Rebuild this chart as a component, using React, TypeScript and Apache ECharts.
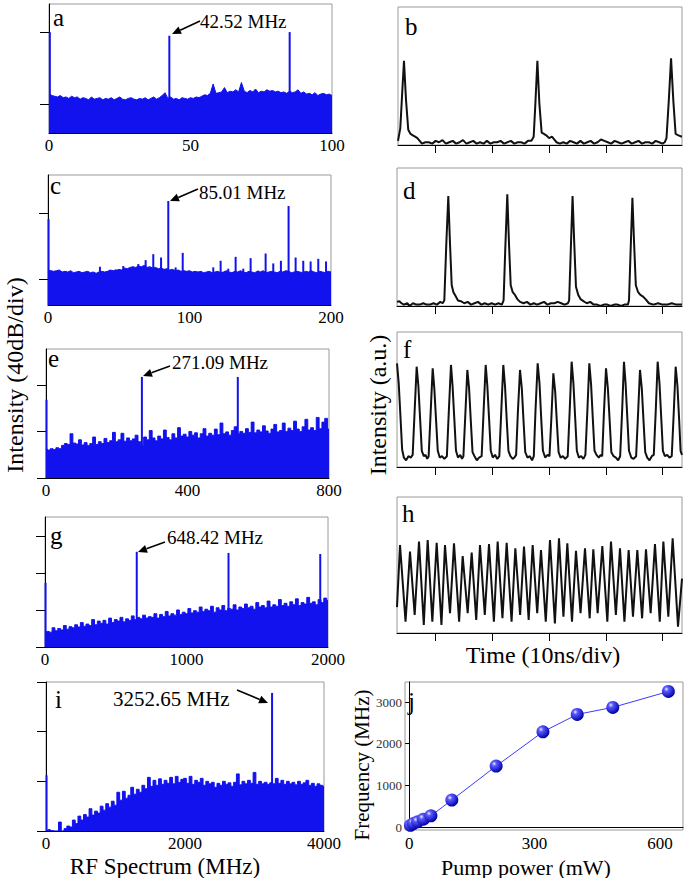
import React, { useEffect, useRef } from "react";
import * as echarts from "echarts";

const FONT = "Liberation Serif, Times New Roman, serif";
const BLUE = "#1212ee";

// ---------- RF spectra (y in "div" units from the panel bottom) ----------
const spanA = 100;
const stepA = 1;
const noiseA = [
  0.55, 0.52, 0.51, 0.5, 0.52, 0.49, 0.5, 0.48, 0.51, 0.49,
  0.5, 0.47, 0.49, 0.48, 0.46, 0.5, 0.47, 0.48, 0.49, 0.46,
  0.48, 0.47, 0.49, 0.46, 0.48, 0.5, 0.47, 0.46, 0.48, 0.49,
  0.47, 0.46, 0.48, 0.47, 0.49, 0.46, 0.48, 0.5, 0.47, 0.49,
  0.52, 0.56, 0.48, 0.5, 0.47, 0.48, 0.46, 0.49, 0.48, 0.47,
  0.49, 0.48, 0.5, 0.49, 0.51, 0.53, 0.52, 0.55, 0.68, 0.55,
  0.56, 0.57, 0.63, 0.56, 0.58, 0.57, 0.6, 0.57, 0.7, 0.58,
  0.56, 0.59, 0.57, 0.61, 0.56, 0.58, 0.57, 0.6, 0.58, 0.59,
  0.57, 0.58, 0.56, 0.57, 0.55, 0.58, 0.56, 0.57, 0.6, 0.55,
  0.57, 0.54, 0.55, 0.53, 0.56, 0.52, 0.54, 0.55, 0.53, 0.54,
  0.52,
];
const peaksA: [number, number][] = [[0.3, 1.4], [42.52, 1.35], [85.04, 1.4]];
const ticksA = [0.403, 1.403];
const maxA = 1.79;

const spanC = 200;
const stepC = 2;
const noiseC = [
  0.53, 0.52, 0.51, 0.52, 0.53, 0.5, 0.51, 0.5, 0.52, 0.49,
  0.5, 0.51, 0.49, 0.5, 0.51, 0.49, 0.5, 0.48, 0.5, 0.51,
  0.5, 0.51, 0.53, 0.52, 0.52, 0.54, 0.53, 0.56, 0.55, 0.57,
  0.58, 0.57, 0.59, 0.58, 0.6, 0.57, 0.58, 0.56, 0.57, 0.55,
  0.56, 0.54, 0.55, 0.53, 0.54, 0.52, 0.53, 0.51, 0.52, 0.51,
  0.52, 0.5, 0.51, 0.5, 0.51, 0.49, 0.5, 0.51, 0.49, 0.5,
  0.51, 0.49, 0.5, 0.52, 0.5, 0.49, 0.51, 0.5, 0.52, 0.5,
  0.49, 0.51, 0.5, 0.49, 0.51, 0.5, 0.52, 0.49, 0.5, 0.51,
  0.5, 0.49, 0.51, 0.5, 0.52, 0.51, 0.49, 0.5, 0.51, 0.5,
  0.49, 0.51, 0.5, 0.52, 0.5, 0.49, 0.51, 0.5, 0.49, 0.51,
  0.5,
];
const peaksC: [number, number][] = [
  [0.4, 1.3], [36.7, 0.58], [47.8, 0.54], [53.2, 0.59], [59.1, 0.55], [63.8, 0.62],
  [69.0, 0.68], [74.4, 0.77], [79.9, 0.72], [85.01, 1.576], [90.2, 0.57], [95.2, 0.79],
  [116.8, 0.57], [122.0, 0.67], [127.4, 0.55], [132.6, 0.73], [138.0, 0.55], [143.2, 0.71],
  [148.6, 0.52], [153.8, 0.78], [159.2, 0.63], [164.6, 0.67], [170.02, 1.5], [175.0, 0.72],
  [180.4, 0.67], [185.6, 0.66], [191.0, 0.7], [196.5, 0.66],
];
const ticksC = [0.394, 1.394];
const maxC = 1.97;

const spanE = 800;
const stepE = 8;
const noiseE = [
  0.62, 0.6, 0.63, 0.61, 0.65, 0.63, 0.7, 0.74, 0.72, 0.95,
  0.75, 0.73, 0.82, 0.71, 0.76, 0.7, 0.74, 0.88, 0.72, 0.78,
  0.74, 0.85, 0.76, 0.8, 0.98, 0.78, 0.82, 0.96, 0.79, 0.86,
  0.8, 0.84, 0.92, 0.78, 0.7, 0.88, 0.82, 1.02, 0.86, 0.8,
  0.9, 0.84, 1.03, 0.87, 0.82, 0.95, 0.86, 1.08, 0.9, 0.94,
  0.88, 1.0, 0.92, 0.97, 0.86, 0.95, 1.06, 0.9, 0.96, 0.92,
  1.05, 0.93, 1.18, 0.95, 0.99, 0.92, 1.02, 1.1, 0.95, 1.0,
  0.96, 1.06, 0.98, 1.2, 0.97, 1.03, 0.99, 1.12, 1.01, 0.96,
  1.05, 1.15, 0.99, 1.02, 1.18, 1.0, 1.07, 1.02, 1.22, 1.05,
  1.0, 1.1, 1.26, 1.03, 1.08, 1.02, 1.3, 1.06, 1.2, 1.28,
  1.05,
];
const peaksE: [number, number][] = [[1.5, 1.68], [271.09, 2.17], [542.18, 2.17]];
const ticksE = [0, 1, 2];
const maxE = 2.77;

const spanG = 2000;
const stepG = 20;
const noiseG = [
  0.38, 0.42, 0.4, 0.52, 0.44, 0.5, 0.46, 0.58, 0.48, 0.55,
  0.52, 0.6, 0.54, 0.66, 0.56, 0.62, 0.58, 0.74, 0.6, 0.7,
  0.64, 0.72, 0.62, 0.78, 0.66, 0.74, 0.7, 0.8, 0.68, 0.76,
  0.72, 0.84, 0.74, 0.8, 0.76, 0.86, 0.78, 0.82, 0.8, 0.9,
  0.78, 0.88, 0.82, 0.96, 0.84, 0.9, 0.86, 1.0, 0.88, 0.94,
  0.9, 1.04, 0.92, 0.98, 0.94, 1.08, 0.96, 1.02, 0.98, 1.1,
  0.94, 1.06, 1.0, 1.12, 0.98, 1.04, 1.02, 1.14, 1.0, 1.08,
  1.04, 1.16, 1.06, 1.1, 1.02, 1.2, 1.08, 1.12, 1.06, 1.24,
  1.08, 1.14, 1.1, 1.28, 1.12, 1.18, 1.1, 1.22, 1.14, 1.3,
  1.12, 1.2, 1.16, 1.34, 1.18, 1.22, 1.14, 1.28, 1.2, 1.32,
  1.26,
];
const peaksG: [number, number][] = [[4, 1.73], [648.42, 2.57], [1296.84, 2.54], [1945.26, 2.51]];
const ticksG = [0, 1, 2, 3];
const maxG = 3.51;

const spanI = 4000;
const stepI = 40;
const noiseI = [
  0.02, 0.03, 0.01, 0.0, 0.0, 0.18, 0.0, 0.05, 0.1, 0.08,
  0.22, 0.15, 0.3, 0.22, 0.33, 0.28, 0.45, 0.32, 0.4, 0.36,
  0.5, 0.42, 0.55, 0.48, 0.6, 0.52, 0.78, 0.62, 0.8, 0.66,
  0.72, 0.88, 0.74, 0.84, 0.78, 0.92, 0.85, 1.08, 0.9, 1.02,
  0.92, 1.05, 0.94, 1.02, 0.96, 1.08, 0.95, 1.1, 0.98, 1.04,
  1.06, 0.96, 1.1, 0.94, 1.02, 0.98, 1.06, 0.92, 1.0, 0.95,
  0.98, 0.88, 0.96, 0.92, 1.0, 0.94, 0.97, 0.9, 0.98, 1.15,
  0.93, 1.0, 0.95, 1.02, 0.96, 1.18, 0.94, 1.0, 0.95, 0.98,
  0.94, 0.97, 0.95, 1.06, 0.96, 1.02, 0.94, 1.0, 0.95, 0.98,
  0.93, 1.0, 0.94, 0.97, 1.02, 0.92, 0.96, 0.9, 0.95, 0.92,
  0.9,
];
const peaksI: [number, number][] = [[8, 1.12], [3252.65, 2.78]];
const ticksI = [0, 1, 2, 3];
const maxI = 3.0;

// ---------- time traces (x in divisions, y as fraction of panel height) ----------
const traceB: [number, number][] = [
  [0.0, 0.03], [0.04, 0.12], [0.07, 0.35], [0.105, 0.61], [0.14, 0.33], [0.18, 0.11], [0.22, 0.08],
  [0.26, 0.07], [0.3, 0.06], [0.34, 0.05], [0.38, 0.03], [0.42, 0.01], [0.48, 0.02], [0.54, 0.02],
  [0.6, 0.01], [0.66, 0.03], [0.72, 0.02], [0.78, 0.035], [0.84, 0.01], [0.9, 0.02], [0.96, 0.03],
  [1.02, 0.01], [1.08, 0.02], [1.14, 0.035], [1.2, 0.01], [1.26, 0.02], [1.32, 0.03], [1.38, 0.01],
  [1.44, 0.02], [1.5, 0.01], [1.56, 0.03], [1.62, 0.01], [1.68, 0.02], [1.74, 0.02], [1.8, 0.03],
  [1.86, 0.01], [1.92, 0.02], [1.98, 0.03], [2.04, 0.01], [2.1, 0.02], [2.16, 0.02], [2.22, 0.01],
  [2.28, 0.03], [2.34, 0.03], [2.38, 0.06], [2.41, 0.3], [2.445, 0.61], [2.48, 0.3], [2.52, 0.09],
  [2.56, 0.08], [2.6, 0.07], [2.65, 0.05], [2.7, 0.06], [2.74, 0.04], [2.78, 0.02], [2.84, 0.01],
  [2.9, 0.02], [2.96, 0.01], [3.02, 0.03], [3.08, 0.02], [3.14, 0.01], [3.2, 0.03], [3.26, 0.01],
  [3.32, 0.02], [3.38, 0.03], [3.44, 0.01], [3.5, 0.02], [3.56, 0.04], [3.62, 0.03], [3.68, 0.02],
  [3.74, 0.01], [3.8, 0.03], [3.86, 0.02], [3.92, 0.01], [3.98, 0.02], [4.04, 0.03], [4.1, 0.01],
  [4.16, 0.02], [4.22, 0.03], [4.28, 0.01], [4.34, 0.02], [4.4, 0.02], [4.46, 0.01], [4.52, 0.03],
  [4.58, 0.02], [4.64, 0.01], [4.68, 0.02], [4.71, 0.05], [4.75, 0.32], [4.79, 0.628], [4.83, 0.32],
  [4.87, 0.08], [4.92, 0.07], [4.98, 0.06],
];

const traceD: [number, number][] = [
  [0.0, 0.03], [0.04, 0.035], [0.08, 0.02], [0.12, 0.01], [0.18, 0.02], [0.22, 0.0], [0.28, 0.02],
  [0.34, 0.01], [0.4, 0.01], [0.46, 0.02], [0.52, 0.01], [0.58, 0.01], [0.64, 0.02], [0.7, 0.01],
  [0.76, 0.03], [0.8, 0.02], [0.83, 0.04], [0.865, 0.45], [0.9, 0.797], [0.93, 0.45], [0.96, 0.15],
  [0.99, 0.1], [1.03, 0.07], [1.07, 0.04], [1.12, 0.035], [1.18, 0.02], [1.24, 0.03], [1.3, 0.01],
  [1.36, 0.02], [1.42, 0.03], [1.48, 0.01], [1.54, 0.02], [1.6, 0.01], [1.66, 0.02], [1.72, 0.01],
  [1.78, 0.02], [1.84, 0.01], [1.87, 0.04], [1.9, 0.42], [1.935, 0.809], [1.965, 0.45], [1.995, 0.15],
  [2.03, 0.1], [2.07, 0.08], [2.11, 0.05], [2.16, 0.03], [2.22, 0.02], [2.28, 0.03], [2.34, 0.01],
  [2.4, 0.02], [2.46, 0.01], [2.52, 0.02], [2.58, 0.03], [2.64, 0.01], [2.7, 0.02], [2.76, 0.02],
  [2.82, 0.03], [2.88, 0.02], [2.94, 0.01], [3.0, 0.02], [3.02, 0.04], [3.05, 0.42], [3.08, 0.797],
  [3.11, 0.45], [3.14, 0.14], [3.18, 0.08], [3.22, 0.05], [3.27, 0.035], [3.33, 0.02], [3.39, 0.03],
  [3.45, 0.01], [3.51, 0.01], [3.57, 0.0], [3.63, 0.01], [3.69, 0.01], [3.75, 0.0], [3.81, 0.01],
  [3.87, 0.01], [3.93, 0.0], [3.99, 0.01], [4.05, 0.01], [4.07, 0.04], [4.1, 0.42], [4.13, 0.785],
  [4.16, 0.45], [4.19, 0.15], [4.23, 0.1], [4.27, 0.08], [4.31, 0.07], [4.36, 0.05], [4.42, 0.02],
  [4.5, 0.01], [4.58, 0.02], [4.66, 0.01], [4.74, 0.01], [4.82, 0.02], [4.9, 0.01], [5.0, 0.01],
];

const traceF: [number, number][] = [
  [0.0, 0.768], [0.03, 0.62], [0.06, 0.38], [0.09, 0.13], [0.12, 0.07], [0.16, 0.05], [0.2, 0.08],
  [0.24, 0.07], [0.275, 0.09], [0.31, 0.42], [0.345, 0.743], [0.375, 0.6], [0.405, 0.36], [0.435, 0.12],
  [0.47, 0.08], [0.5, 0.09], [0.53, 0.06], [0.555, 0.08], [0.59, 0.4], [0.626, 0.731], [0.655, 0.58],
  [0.685, 0.35], [0.715, 0.12], [0.75, 0.07], [0.79, 0.08], [0.83, 0.06], [0.875, 0.08], [0.91, 0.42],
  [0.947, 0.756], [0.975, 0.6], [1.005, 0.36], [1.035, 0.12], [1.07, 0.07], [1.11, 0.09], [1.14, 0.06],
  [1.165, 0.08], [1.2, 0.4], [1.234, 0.719], [1.265, 0.58], [1.295, 0.34], [1.325, 0.11], [1.36, 0.08],
  [1.4, 0.05], [1.44, 0.07], [1.485, 0.08], [1.52, 0.42], [1.556, 0.756], [1.585, 0.6], [1.615, 0.36],
  [1.645, 0.12], [1.68, 0.07], [1.72, 0.09], [1.76, 0.06], [1.795, 0.08], [1.83, 0.42], [1.865, 0.756],
  [1.895, 0.6], [1.925, 0.35], [1.955, 0.12], [1.99, 0.08], [2.03, 0.06], [2.06, 0.07], [2.09, 0.09],
  [2.12, 0.4], [2.158, 0.719], [2.19, 0.58], [2.22, 0.34], [2.25, 0.11], [2.29, 0.07], [2.33, 0.08],
  [2.37, 0.05], [2.4, 0.08], [2.43, 0.42], [2.468, 0.768], [2.5, 0.62], [2.53, 0.36], [2.56, 0.12],
  [2.6, 0.07], [2.64, 0.09], [2.675, 0.08], [2.71, 0.38], [2.743, 0.694], [2.775, 0.56], [2.805, 0.33],
  [2.835, 0.11], [2.87, 0.07], [2.91, 0.08], [2.95, 0.06], [2.995, 0.08], [3.03, 0.42], [3.064, 0.78],
  [3.095, 0.62], [3.125, 0.37], [3.155, 0.12], [3.19, 0.07], [3.23, 0.08], [3.27, 0.06], [3.305, 0.09],
  [3.34, 0.42], [3.374, 0.768], [3.405, 0.61], [3.435, 0.36], [3.465, 0.12], [3.5, 0.09], [3.54, 0.07],
  [3.575, 0.09], [3.6, 0.08], [3.63, 0.4], [3.667, 0.731], [3.7, 0.58], [3.73, 0.35], [3.76, 0.11],
  [3.8, 0.08], [3.84, 0.07], [3.88, 0.05], [3.915, 0.08], [3.95, 0.42], [3.982, 0.78], [4.01, 0.62],
  [4.04, 0.37], [4.07, 0.12], [4.11, 0.07], [4.15, 0.06], [4.195, 0.08], [4.23, 0.4], [4.263, 0.719],
  [4.295, 0.58], [4.325, 0.34], [4.355, 0.11], [4.39, 0.07], [4.43, 0.05], [4.47, 0.08], [4.505, 0.09],
  [4.54, 0.42], [4.573, 0.78], [4.605, 0.62], [4.635, 0.37], [4.665, 0.12], [4.7, 0.08], [4.74, 0.09],
  [4.78, 0.07], [4.82, 0.08], [4.855, 0.4], [4.889, 0.743], [4.92, 0.6], [4.95, 0.35], [4.975, 0.12],
  [5.0, 0.09],
];

const traceH: [number, number][] = [
  [0.0, 0.19], [0.053, 0.647], [0.15, 0.083], [0.228, 0.598], [0.31, 0.132], [0.386, 0.672],
  [0.47, 0.059], [0.538, 0.684], [0.62, 0.083], [0.696, 0.664], [0.78, 0.059], [0.842, 0.647],
  [0.93, 0.145], [1.0, 0.659], [1.09, 0.083], [1.152, 0.566], [1.24, 0.145], [1.31, 0.591],
  [1.39, 0.096], [1.456, 0.647], [1.54, 0.132], [1.614, 0.654], [1.7, 0.083], [1.766, 0.672],
  [1.85, 0.108], [1.924, 0.664], [2.01, 0.083], [2.076, 0.623], [2.16, 0.132], [2.228, 0.635],
  [2.31, 0.096], [2.38, 0.647], [2.46, 0.145], [2.526, 0.61], [2.61, 0.083], [2.684, 0.684],
  [2.77, 0.071], [2.842, 0.696], [2.92, 0.12], [2.988, 0.659], [3.07, 0.083], [3.14, 0.605],
  [3.22, 0.145], [3.298, 0.623], [3.38, 0.108], [3.444, 0.615], [3.52, 0.145], [3.602, 0.64],
  [3.69, 0.083], [3.754, 0.672], [3.84, 0.132], [3.912, 0.623], [3.99, 0.083], [4.064, 0.61],
  [4.14, 0.12], [4.216, 0.61], [4.3, 0.108], [4.368, 0.615], [4.45, 0.145], [4.526, 0.654],
  [4.61, 0.083], [4.673, 0.672], [4.76, 0.12], [4.836, 0.696], [4.93, 0.047], [5.0, 0.4],
];
const timeTicksB = [0.65, 1.65, 2.65, 3.65, 4.63];
const timeTicks = [0.667, 1.667, 2.667, 3.667, 4.65];

// ---------- panel j ----------
const pumpPower = [3, 10, 20, 34, 52, 102, 208, 320, 402, 487, 620];
const repFreq = [42.52, 85.01, 127.5, 190, 271.09, 648.42, 1463, 2286, 2703, 2871, 3252.65];
const freqTicks = [0, 1000, 2000, 3000];
const powerTicks = [0, 300, 600];

// ---------- layout ----------
const boxes = {
  a: { left: 49, top: 4, width: 283, height: 129 },
  c: { left: 48, top: 175, width: 283, height: 130 },
  e: { left: 46, top: 349, width: 283, height: 129 },
  g: { left: 45, top: 517, width: 283, height: 130 },
  i: { left: 46, top: 682, width: 278, height: 149 },
  b: { left: 398, top: 7, width: 284, height: 138 },
  d: { left: 397, top: 168, width: 285, height: 138 },
  f: { left: 397, top: 332, width: 285, height: 135 },
  h: { left: 397, top: 497, width: 285, height: 136 },
  j: { left: 405, top: 682, width: 278, height: 148 },
};

function arrow(x1: number, y1: number, x2: number, y2: number) {
  const dx = x2 - x1, dy = y2 - y1;
  const L = Math.hypot(dx, dy);
  const ux = dx / L, uy = dy / L;
  const hl = 9, hw = 4;
  const bx = x2 - ux * hl, by = y2 - uy * hl;
  return [
    { type: "line", shape: { x1, y1, x2: bx, y2: by }, style: { stroke: "#000", lineWidth: 1.6 } },
    {
      type: "polygon",
      shape: { points: [[x2, y2], [bx - uy * hw, by + ux * hw], [bx + uy * hw, by - ux * hw]] },
      style: { fill: "#000" },
    },
  ];
}

function txt(text: string, x: number, y: number, size: number, align = "left", rotate = 0) {
  return {
    type: "text",
    x,
    y,
    rotation: rotate,
    style: { text, fill: "#000", fontSize: size, fontFamily: FONT, align, verticalAlign: "middle" },
  };
}

const plain = (v: number) => String(v);

export default function App() {
  const ref = useRef<HTMLDivElement>(null);
  useEffect(() => {
    document.body.style.margin = "0";
    const chart = echarts.init(ref.current!, undefined, { renderer: "svg" });

    const grid: any[] = [];
    const xAxis: any[] = [];
    const yAxis: any[] = [];
    const series: any[] = [];
    const border = { show: true, borderColor: "#9a9a9a", borderWidth: 1 };
    const blackLine = { show: true, lineStyle: { color: "#000", width: 1 } };

    const spectra = [
      { box: boxes.a, span: spanA, step: stepA, noise: noiseA, peaks: peaksA, ticks: ticksA, max: maxA, stepMode: false },
      { box: boxes.c, span: spanC, step: stepC, noise: noiseC, peaks: peaksC, ticks: ticksC, max: maxC, stepMode: false },
      { box: boxes.e, span: spanE, step: stepE, noise: noiseE, peaks: peaksE, ticks: ticksE, max: maxE, stepMode: "middle" },
      { box: boxes.g, span: spanG, step: stepG, noise: noiseG, peaks: peaksG, ticks: ticksG, max: maxG, stepMode: "middle" },
      { box: boxes.i, span: spanI, step: stepI, noise: noiseI, peaks: peaksI, ticks: ticksI, max: maxI, stepMode: "middle" },
    ];
    spectra.forEach((s) => {
      const k = grid.length;
      grid.push({ ...s.box, ...border });
      xAxis.push({
        gridIndex: k, type: "value", min: 0, max: s.span, interval: s.span / 2,
        axisLine: blackLine, axisTick: { show: false }, splitLine: { show: false },
        axisLabel: { fontSize: 17, color: "#000", fontFamily: FONT, margin: 4, formatter: plain },
      });
      yAxis.push({
        gridIndex: k, type: "value", min: 0, max: s.max,
        axisLine: blackLine, splitLine: { show: false }, axisLabel: { show: false },
        axisTick: { show: true, length: 9, customValues: s.ticks, lineStyle: { color: "#000" } },
      });
      series.push({
        type: "line", xAxisIndex: k, yAxisIndex: k, symbol: "none", step: s.stepMode,
        data: s.noise.map((v, i) => [i * s.step, v]),
        lineStyle: { color: BLUE, width: 1 }, areaStyle: { color: BLUE, opacity: 1 },
      });
      series.push({
        type: "bar", xAxisIndex: k, yAxisIndex: k, barWidth: 2, data: s.peaks,
        itemStyle: { color: BLUE },
      });
    });

    const traces = [
      { box: boxes.b, data: traceB, max: 4.982, ticks: timeTicksB },
      { box: boxes.d, data: traceD, max: 5.0, ticks: timeTicks },
      { box: boxes.f, data: traceF, max: 5.0, ticks: timeTicks },
      { box: boxes.h, data: traceH, max: 5.0, ticks: timeTicks },
    ];
    traces.forEach((t) => {
      const k = grid.length;
      grid.push({ ...t.box, ...border });
      xAxis.push({
        gridIndex: k, type: "value", min: 0, max: t.max,
        axisLine: blackLine, splitLine: { show: false }, axisLabel: { show: false },
        axisTick: { show: true, length: 8, customValues: t.ticks, lineStyle: { color: "#000" } },
      });
      yAxis.push({
        gridIndex: k, type: "value", min: 0, max: 1,
        axisLine: { show: false }, axisTick: { show: false }, axisLabel: { show: false }, splitLine: { show: false },
      });
      series.push({
        type: "line", xAxisIndex: k, yAxisIndex: k, symbol: "none", data: t.data,
        lineStyle: { color: "#111", width: 2 },
      });
    });

    {
      const k = grid.length;
      grid.push({ ...boxes.j, ...border });
      xAxis.push({
        gridIndex: k, type: "value", min: -10, max: 655,
        axisLine: blackLine, splitLine: { show: false }, axisTick: { show: false },
        axisLabel: { customValues: powerTicks, fontSize: 17, color: "#000", fontFamily: FONT, margin: 5, formatter: plain },
      });
      yAxis.push({
        gridIndex: k, type: "value", min: -70, max: 3480,
        axisLine: blackLine, splitLine: { show: false },
        axisTick: { show: true, length: 4, customValues: freqTicks, lineStyle: { color: "#000" } },
        axisLabel: { customValues: freqTicks, fontSize: 13, color: "#333", fontFamily: FONT, margin: 3, formatter: plain },
      });
      series.push({
        type: "line", xAxisIndex: k, yAxisIndex: k, symbol: "circle", symbolSize: 13,
        data: pumpPower.map((p, i) => [p, repFreq[i]]),
        lineStyle: { color: "#3a3aff", width: 1 },
        itemStyle: {
          color: new echarts.graphic.RadialGradient(0.35, 0.32, 0.7, [
            { offset: 0, color: "#eef0ff" },
            { offset: 0.25, color: "#5a5aff" },
            { offset: 1, color: "#0000a8" },
          ]),
        },
      });
    }

    const elements: any[] = [
      txt("a", 53, 17, 25), txt("c", 50, 185, 25), txt("e", 48, 358, 25), txt("g", 50, 535, 25), txt("i", 55, 699, 25),
      txt("b", 405, 26, 25), txt("d", 403, 190, 25), txt("f", 403, 349, 25), txt("h", 402, 513, 25), txt("j", 408, 701, 25),
      txt("42.52 MHz", 200, 21, 19), txt("85.01 MHz", 199, 192, 19), txt("271.09 MHz", 172, 362, 19),
      txt("648.42 MHz", 167, 537, 19), txt("3252.65 MHz", 113, 699, 21),
      ...arrow(200, 21, 172, 34), ...arrow(198, 189, 170, 201), ...arrow(170, 366, 143, 376),
      ...arrow(165, 542, 138, 552), ...arrow(237, 690, 268, 703),
      txt("RF Spectrum (MHz)", 165, 866, 23, "center"),
      txt("Time (10ns/div)", 543, 655, 24, "center"),
      txt("Pump power (mW)", 526, 867, 22, "center"),
      txt("Intensity (40dB/div)", 15, 375, 24, "center", Math.PI / 2),
      txt("Intensity (a.u.)", 378, 405, 24, "center", Math.PI / 2),
      txt("Frequency (MHz)", 362, 765, 21, "center", Math.PI / 2),
    ];

    chart.setOption({
      animation: false,
      backgroundColor: "#fff",
      textStyle: { fontFamily: FONT },
      grid, xAxis, yAxis, series,
      graphic: { elements },
    });
    return () => chart.dispose();
  }, []);
  return <div ref={ref} style={{ position: "absolute", left: 0, top: 0, width: 685, height: 878 }} />;
}
